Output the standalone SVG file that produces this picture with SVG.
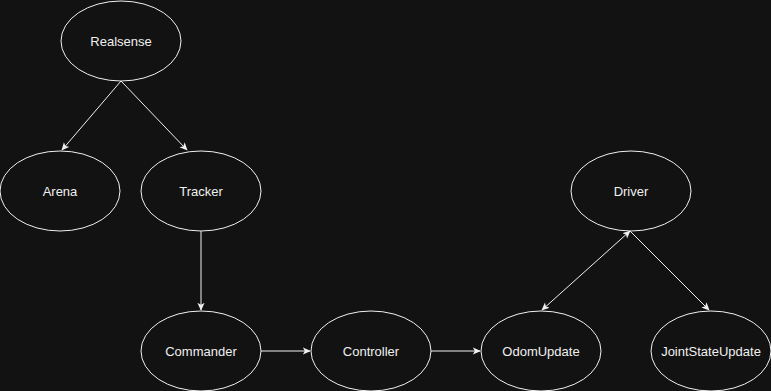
<svg xmlns="http://www.w3.org/2000/svg" width="771" height="391" viewBox="0 0 771 391">
  <style>
    .node ellipse { fill: #121212; stroke: #f0f0f0; stroke-width: 1; }
    .node text { fill: #f0f0f0; font-family: "Liberation Sans", Arial, sans-serif; font-size: 13px; text-anchor: middle; dominant-baseline: central; }
    .edge { stroke: #f0f0f0; stroke-width: 1; fill: none; }
  </style>
  <defs>
    <marker id="arrow" viewBox="0 0 10 10" refX="9" refY="5" markerWidth="8" markerHeight="8" orient="auto-start-reverse" markerUnits="userSpaceOnUse">
      <path d="M0,0.5 L10,5 L0,9.5 L2.5,5 Z" fill="#f0f0f0"/>
    </marker>
  </defs>
  <rect width="771" height="391" fill="#121212"/>

  <g id="connectors">
    <line class="edge" x1="121" y1="81" x2="62" y2="150" marker-end="url(#arrow)"/>
    <line class="edge" x1="121" y1="81" x2="187" y2="150" marker-end="url(#arrow)"/>
    <line class="edge" x1="201" y1="231" x2="201" y2="310" marker-end="url(#arrow)"/>
    <line class="edge" x1="261" y1="351" x2="310" y2="351" marker-end="url(#arrow)"/>
    <line class="edge" x1="431" y1="351" x2="480" y2="351" marker-end="url(#arrow)"/>
    <line class="edge" x1="630" y1="231" x2="542" y2="310" marker-start="url(#arrow)" marker-end="url(#arrow)"/>
    <line class="edge" x1="630" y1="231" x2="709" y2="310" marker-end="url(#arrow)"/>
  </g>

  <g id="realsense" class="node">
    <ellipse cx="121" cy="41" rx="60" ry="40"/>
    <text x="121" y="41">Realsense</text>
  </g>
  <g id="arena" class="node">
    <ellipse cx="60" cy="191" rx="60" ry="40"/>
    <text x="60" y="191">Arena</text>
  </g>
  <g id="tracker" class="node">
    <ellipse cx="201" cy="191" rx="60" ry="40"/>
    <text x="201" y="191">Tracker</text>
  </g>
  <g id="commander" class="node">
    <ellipse cx="201" cy="351" rx="60" ry="40"/>
    <text x="201" y="351">Commander</text>
  </g>
  <g id="controller" class="node">
    <ellipse cx="371" cy="351" rx="60" ry="40"/>
    <text x="371" y="351">Controller</text>
  </g>
  <g id="odomupdate" class="node">
    <ellipse cx="541" cy="351" rx="60" ry="40"/>
    <text x="541" y="351">OdomUpdate</text>
  </g>
  <g id="driver" class="node">
    <ellipse cx="631" cy="191" rx="60" ry="40"/>
    <text x="631" y="191">Driver</text>
  </g>
  <g id="jointstateupdate" class="node">
    <ellipse cx="711" cy="351" rx="60" ry="40"/>
    <text x="711" y="351">JointStateUpdate</text>
  </g>
</svg>
